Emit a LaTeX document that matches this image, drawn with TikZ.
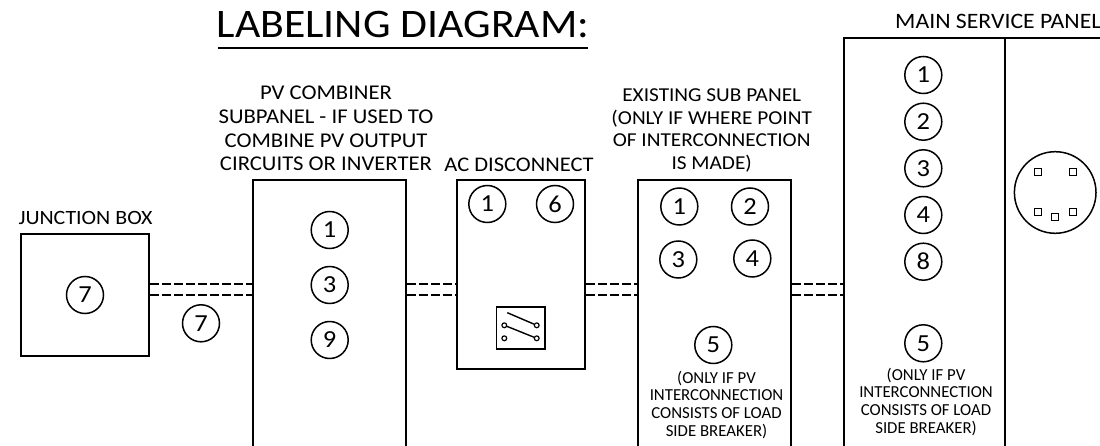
\documentclass[tikz,border=0pt]{standalone}
\usepackage{fontspec}
\setmainfont{Carlito}[FakeStretch=1.08]
\newfontfamily\plainfont{Carlito}
\begin{document}
\begin{tikzpicture}[x=1pt,y=-1pt,
  box/.style={draw, line width=1.9pt, rectangle, inner sep=0pt},
  num/.style={draw, circle, line width=1.5pt, minimum size=37pt, inner sep=0pt, font=\fontsize{24.5}{24.5}\selectfont},
  lbl/.style={align=center, inner sep=0pt, font=\fontsize{21}{23.6}\selectfont},
  small/.style={align=center, inner sep=0pt, font=\plainfont\fontsize{16.8}{17.8}\selectfont},
  wire/.style={line width=1.8pt, dash pattern=on 9pt off 3pt},
  pin/.style={draw, circle, line width=1.2pt, minimum size=4.8pt, inner sep=0pt},
  sq/.style={draw, rectangle, line width=1.2pt, minimum size=7pt, inner sep=0pt}]
\useasboundingbox (0,0) rectangle (1100,446);
\clip (0,0) rectangle (1100,446);

% title
\node[anchor=base, inner sep=0pt, font=\fontsize{40.5}{40.5}\selectfont] (title) at (403,37.7) {LABELING DIAGRAM:};
\draw[line width=1.9pt] (218,48) -- (588,48);

% junction box
\node[box, minimum width=128pt, minimum height=122pt] (jb) at (85,295) {};
\node[lbl, anchor=base, font=\fontsize{20.3}{23.6}\selectfont] (jbl) at (85.5,224.5) {JUNCTION BOX};
\node[num] (jb7) at (85,295) {7};

% PV combiner
\node[box, minimum width=152.7pt, minimum height=300pt] (pv) at (329.4,330) {};
\node[lbl, anchor=south] (pvl) at (326,171) {PV COMBINER\\SUBPANEL - IF USED TO\\COMBINE PV OUTPUT\\CIRCUITS OR INVERTER};
\node[num] (pv1) at (329.7,230) {1};
\node[num] (pv3) at (329.7,285) {3};
\node[num] (pv9) at (329.7,340) {9};

% AC disconnect
\node[box, minimum width=127.7pt, minimum height=189pt] (ac) at (521.2,274.5) {};
\node[lbl, anchor=base, font=\fontsize{20.8}{23.6}\selectfont] (acl) at (519,171.5) {AC DISCONNECT};
\node[num] (ac1) at (487.3,204) {1};
\node[num] (ac6) at (555,204) {6};
\node[box, line width=1.6pt, minimum width=48.3pt, minimum height=41.7pt] (sw) at (520.8,328) {};
\node[pin] (swul) at (504.3,325.3) {};
\node[pin] (swur) at (536.7,325.3) {};
\node[pin] (swll) at (504.3,338.3) {};
\node[pin] (swlr) at (536.7,338.3) {};
\coordinate (swtop) at (507.3,312.7);
\draw[line width=1.4pt] (swtop) -- (swur);
\draw[line width=1.4pt] (swul) -- (swlr);

% existing sub panel
\node[box, minimum width=152.7pt, minimum height=300pt] (sp) at (714.7,330) {};
\node[lbl, anchor=south, font=\fontsize{19.7}{22.5}\selectfont] (spl) at (711.7,172) {EXISTING SUB PANEL\\(ONLY IF WHERE POINT\\OF INTERCONNECTION\\IS MADE)};
\node[num] (sp1) at (679.3,206.5) {1};
\node[num] (sp2) at (750,206.5) {2};
\node[num] (sp3) at (678.3,259.5) {3};
\node[num] (sp4) at (752.3,258.5) {4};
\node[num] (sp5) at (713.3,345) {5};
\node[small, anchor=south] (spn) at (716.5,439) {(ONLY IF PV\\INTERCONNECTION\\CONSISTS OF LOAD\\SIDE BREAKER)};

% main service panel
\node[box, minimum width=330pt, minimum height=440pt] (msp) at (1009,258) {};
\draw[line width=1.9pt] (1005,38) -- (1005,460);
\node[lbl, anchor=base west, font=\fontsize{22}{23.6}\selectfont] (mspl) at (895,28.3) {MAIN SERVICE PANEL};
\node[num] (m1) at (923.3,75) {1};
\node[num] (m2) at (923.3,121.7) {2};
\node[num] (m3) at (923.3,168.3) {3};
\node[num] (m4) at (923.3,215) {4};
\node[num] (m8) at (923.3,261.7) {8};
\node[num] (m5) at (923.3,343.3) {5};
\node[small, anchor=south] (mspn) at (926,436) {(ONLY IF PV\\INTERCONNECTION\\CONSISTS OF LOAD\\SIDE BREAKER)};

% meter
\node[draw, circle, line width=1.5pt, minimum size=81.6pt, inner sep=0pt] (meter) at (1055.2,192.5) {};
\node[sq] (q1) at (1038.3,171.7) {};
\node[sq] (q2) at (1072.7,171.7) {};
\node[sq] (q3) at (1038.3,212.3) {};
\node[sq] (q4) at (1055.3,217.3) {};
\node[sq] (q5) at (1072.7,212.3) {};

% wires
\draw[wire] (jb.east |- 0,284.3) -- (pv.west |- 0,284.3);
\draw[wire] (jb.east |- 0,295.3) -- (pv.west |- 0,295.3);
\node[num] (w7) at (201,323.3) {7};
\draw[wire] (pv.east |- 0,284.3) -- (ac.west |- 0,284.3);
\draw[wire] (pv.east |- 0,295.3) -- (ac.west |- 0,295.3);
\draw[wire] (ac.east |- 0,284.3) -- (sp.west |- 0,284.3);
\draw[wire] (ac.east |- 0,295.3) -- (sp.west |- 0,295.3);
\draw[wire] (sp.east |- 0,284.3) -- (msp.west |- 0,284.3);
\draw[wire] (sp.east |- 0,295.3) -- (msp.west |- 0,295.3);
\end{tikzpicture}
\end{document}
